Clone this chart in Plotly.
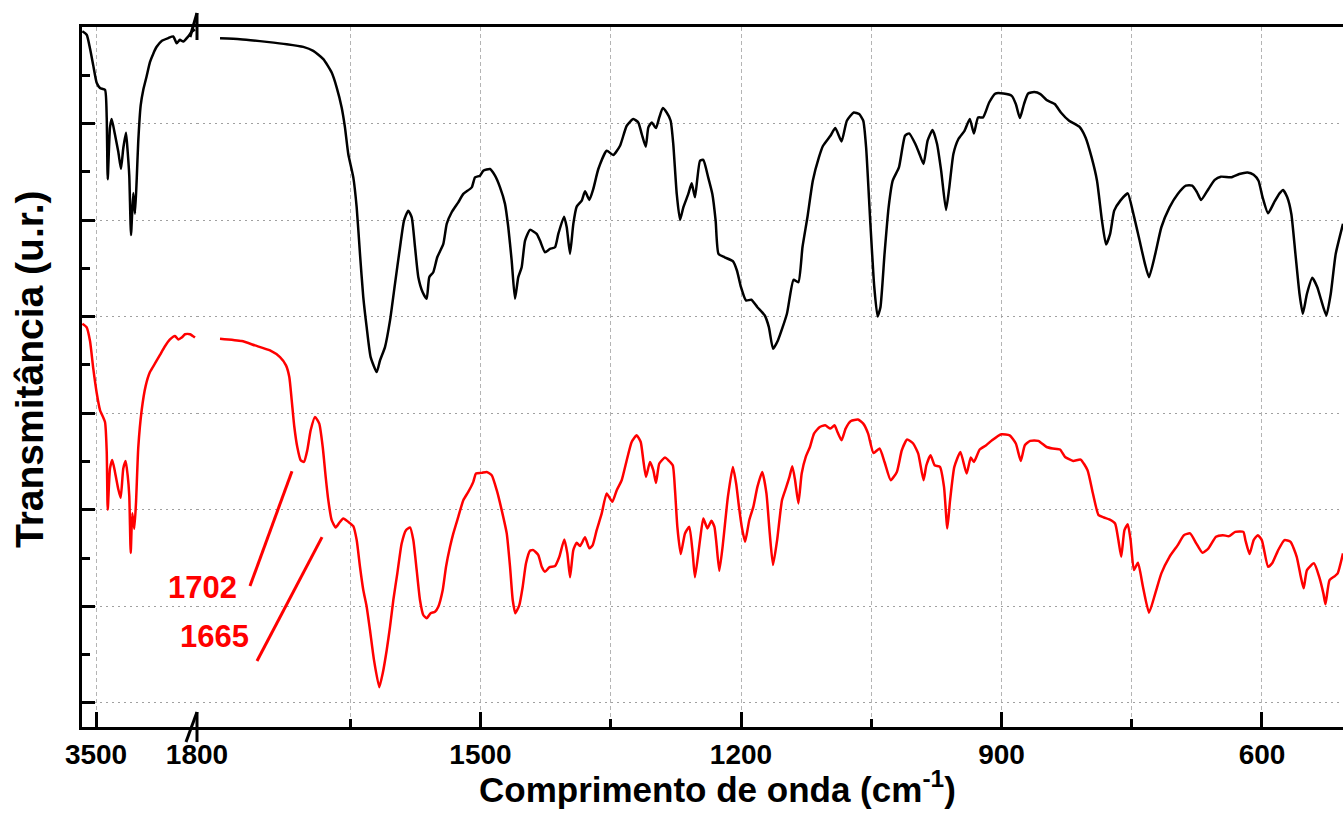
import plotly.graph_objects as go

# ---------------- data (wavenumber cm-1, transmittance u.r.) ----------------
black_left_wn = [3731, 3657, 3601, 3546, 3489, 3433, 3349, 3320, 3303, 3265, 3236, 3181, 3125, 3080,
                 3041, 2995, 2967, 2940, 2911, 2873, 2844, 2815, 2789, 2748, 2704, 2647, 2592, 2536,
                 2479, 2395, 2284, 2200, 2142, 2087, 2031, 1947, 1890, 1834]
black_left_t = [6.956, 6.920, 6.778, 6.600, 6.422, 6.368, 6.350, 6.064, 5.423, 5.958, 6.046, 5.886,
                5.708, 5.529, 5.744, 5.905, 5.708, 5.458, 4.845, 5.280, 5.066, 5.423, 5.815, 6.189,
                6.350, 6.492, 6.635, 6.724, 6.795, 6.856, 6.885, 6.903, 6.831, 6.867, 6.849, 6.903,
                6.949, 6.974]

black_right_wn = [1800.0, 1777.0, 1746.2, 1723.2, 1704.1, 1692.6, 1681.0, 1671.4, 1665.6, 1659.9,
                  1656.1, 1652.3, 1646.5, 1642.6, 1638.8, 1635.0, 1631.1, 1626.5, 1619.5, 1615.7,
                  1610.0, 1604.2, 1598.5, 1592.7, 1588.1, 1583.2, 1579.2, 1575.4, 1571.6, 1566.6,
                  1562.0, 1559.0, 1554.4, 1549.8, 1542.8, 1538.9, 1533.2, 1525.6, 1519.8, 1510.1,
                  1506.3, 1500.6, 1496.8, 1489.1, 1483.3, 1477.5, 1471.8, 1468.0, 1464.1, 1460.3,
                  1456.5, 1452.6, 1448.7, 1443.0, 1435.3, 1431.5, 1425.7, 1420.0, 1414.2, 1410.4,
                  1403.8, 1400.7, 1396.9, 1393.1, 1389.2, 1383.4, 1379.6, 1374.7, 1370.1, 1364.3,
                  1354.7, 1347.1, 1339.3, 1331.6, 1324.0, 1318.3, 1314.3, 1309.7, 1306.7, 1302.8,
                  1297.9, 1294.1, 1290.2, 1285.6, 1281.0, 1278.0, 1274.0, 1270.2, 1266.4, 1260.7,
                  1256.8, 1253.0, 1247.2, 1243.4, 1237.8, 1233.0, 1229.2, 1225.9, 1218.9, 1209.4,
                  1204.7, 1200.0, 1194.3, 1188.1, 1181.1, 1172.6, 1167.9, 1163.1, 1157.5, 1147.1,
                  1139.5, 1133.9, 1129.2, 1123.5, 1117.3, 1110.3, 1105.5, 1097.0, 1091.4, 1084.2,
                  1078.1, 1070.1, 1063.9, 1059.2, 1055.9, 1051.2, 1046.5, 1042.7, 1039.4, 1034.7,
                  1030.0, 1025.3, 1018.1, 1011.1, 1006.4, 999.2, 994.5, 989.8, 985.1, 979.4,
                  974.2, 969.5, 963.9, 960.1, 955.4, 949.6, 942.6, 936.5, 931.8, 927.0,
                  921.3, 914.2, 907.1, 897.7, 888.2, 883.5, 878.8, 874.1, 869.3, 862.3,
                  855.2, 848.1, 838.7, 831.6, 822.1, 810.4, 803.2, 796.2, 790.0, 784.3,
                  779.6, 774.9, 770.2, 763.1, 754.6, 749.0, 741.8, 734.8, 730.1, 722.9,
                  715.9, 706.5, 697.0, 687.6, 680.4, 674.8, 670.1, 661.6, 654.4, 647.4,
                  635.6, 626.1, 616.6, 609.6, 604.0, 599.3, 593.0, 586.0, 579.8, 575.6,
                  570.9, 566.2, 561.5, 556.8, 553.0, 548.2, 542.0, 536.3, 531.7, 525.9,
                  520.8, 515.1, 506.7]
black_right_t = [6.884, 6.874, 6.846, 6.822, 6.794, 6.753, 6.667, 6.528, 6.373, 6.166,
                 5.960, 5.685, 5.443, 5.132, 4.650, 4.202, 3.891, 3.581, 3.426, 3.547,
                 3.685, 3.961, 4.340, 4.719, 4.995, 5.098, 5.029, 4.719, 4.409, 4.253,
                 4.185, 4.409, 4.460, 4.615, 4.754, 4.961, 5.081, 5.184, 5.271, 5.339,
                 5.443, 5.460, 5.512, 5.529, 5.460, 5.339, 5.168, 4.926, 4.581, 4.185,
                 4.409, 4.512, 4.788, 4.899, 4.857, 4.788, 4.667, 4.702, 4.719, 4.857,
                 5.036, 4.926, 4.650, 4.961, 5.140, 5.202, 5.298, 5.209, 5.323, 5.529,
                 5.719, 5.674, 5.770, 5.977, 6.047, 6.011, 5.891, 5.760, 5.960, 6.011,
                 5.953, 6.063, 6.160, 6.115, 6.029, 5.788, 5.271, 5.002, 5.132, 5.271,
                 5.381, 5.236, 5.615, 5.623, 5.443, 5.271, 4.995, 4.650, 4.615, 4.574,
                 4.478, 4.305, 4.168, 4.175, 4.098, 4.012, 3.891, 3.668, 3.754, 4.030,
                 4.382, 4.357, 4.719, 5.029, 5.408, 5.649, 5.770, 5.874, 5.953, 5.815,
                 6.029, 6.115, 6.098, 6.029, 5.753, 4.995, 4.305, 4.002, 4.098, 4.650,
                 5.132, 5.408, 5.546, 5.874, 5.898, 5.788, 5.685, 5.581, 5.822, 5.933,
                 5.788, 5.512, 5.105, 5.339, 5.685, 5.840, 5.925, 6.047, 5.898, 6.063,
                 6.063, 6.218, 6.311, 6.311, 6.287, 6.202, 6.057, 6.202, 6.311, 6.326,
                 6.305, 6.243, 6.202, 6.115, 6.029, 5.967, 5.856, 5.649, 5.408, 4.995,
                 4.747, 4.857, 5.098, 5.202, 5.277, 5.098, 4.822, 4.547, 4.409, 4.650,
                 4.926, 5.132, 5.271, 5.357, 5.357, 5.288, 5.209, 5.323, 5.416, 5.450,
                 5.443, 5.478, 5.494, 5.470, 5.408, 5.236, 5.070, 5.184, 5.277, 5.312,
                 5.236, 5.064, 4.650, 4.237, 4.030, 4.237, 4.402, 4.305, 4.168, 4.012,
                 4.237, 4.650, 4.961]

red_left_wn = [3731, 3657, 3601, 3546, 3489, 3433, 3349, 3320, 3303, 3265, 3226, 3181, 3125, 3085,
               3041, 3001, 2967, 2940, 2916, 2889, 2856, 2827, 2789, 2731, 2664, 2592, 2507, 2423,
               2339, 2255, 2171, 2115, 2058, 2002, 1918, 1834]
red_left_t = [3.926, 3.889, 3.747, 3.461, 3.212, 3.033, 2.909, 2.606, 1.999, 2.427, 2.516, 2.392,
              2.213, 2.124, 2.427, 2.506, 2.356, 2.142, 1.553, 1.964, 1.803, 2.070, 2.641, 3.033,
              3.283, 3.426, 3.515, 3.604, 3.693, 3.764, 3.800, 3.764, 3.783, 3.818, 3.818, 3.783]

red_right_wn = [1800.0, 1775.0, 1759.7, 1742.4, 1730.9, 1724.0, 1720.2, 1717.4, 1714.4, 1711.0,
                1707.1, 1703.3, 1699.5, 1695.6, 1690.6, 1685.7, 1681.7, 1678.3, 1675.3, 1671.4,
                1666.8, 1662.6, 1658.0, 1652.3, 1646.5, 1642.6, 1638.8, 1635.0, 1631.1, 1627.3,
                1622.7, 1616.6, 1612.6, 1608.0, 1604.2, 1600.4, 1595.8, 1590.8, 1585.8, 1581.2,
                1577.4, 1573.5, 1569.7, 1565.9, 1562.0, 1557.4, 1552.4, 1548.6, 1543.5, 1539.7,
                1535.1, 1531.3, 1525.6, 1519.8, 1514.1, 1508.3, 1505.2, 1498.6, 1492.9, 1487.1,
                1481.3, 1475.6, 1469.8, 1466.0, 1462.9, 1459.9, 1455.3, 1451.4, 1447.6, 1443.0,
                1439.2, 1433.4, 1429.5, 1425.7, 1420.8, 1414.2, 1409.2, 1403.5, 1400.0, 1396.9,
                1393.1, 1389.2, 1385.4, 1379.6, 1374.7, 1370.8, 1366.2, 1360.4, 1354.7, 1348.2,
                1343.1, 1337.4, 1331.6, 1325.9, 1320.1, 1315.5, 1312.5, 1309.4, 1304.8, 1301.0,
                1297.9, 1294.1, 1287.5, 1283.7, 1278.6, 1276.0, 1273.3, 1269.4, 1264.5, 1259.5,
                1255.6, 1253.0, 1247.2, 1243.4, 1238.7, 1234.0, 1230.6, 1228.3, 1225.0, 1221.2,
                1218.0, 1215.1, 1209.4, 1205.6, 1202.3, 1199.1, 1195.3, 1190.5, 1185.8, 1181.1,
                1175.5, 1170.7, 1166.9, 1163.1, 1158.4, 1152.8, 1148.0, 1144.2, 1140.9, 1137.7,
                1133.9, 1130.1, 1125.4, 1120.6, 1115.9, 1109.3, 1103.1, 1097.0, 1092.3, 1088.9,
                1084.2, 1079.5, 1073.4, 1065.3, 1059.2, 1053.6, 1047.4, 1040.4, 1034.7, 1027.6,
                1020.5, 1014.8, 1008.7, 1001.7, 995.9, 989.8, 986.5, 981.7, 977.0, 970.9,
                966.2, 962.4, 959.2, 954.3, 947.3, 940.2, 935.4, 931.8, 925.1, 917.6,
                910.9, 900.1, 890.6, 883.5, 877.8, 873.1, 867.0, 857.6, 848.1, 841.0,
                832.6, 826.8, 817.4, 808.9, 800.9, 794.7, 788.2, 782.0, 775.8, 769.2,
                765.4, 762.1, 758.4, 754.6, 751.3, 747.5, 742.8, 737.1, 730.1, 722.9,
                715.9, 706.5, 697.0, 689.9, 682.8, 675.7, 668.6, 661.6, 653.0, 645.1,
                637.9, 630.8, 621.4, 619.1, 614.3, 609.6, 604.9, 600.2, 593.0, 588.3,
                581.3, 574.1, 567.1, 560.0, 555.3, 552.0, 548.2, 540.2, 534.1, 529.3,
                526.9, 522.2, 516.1, 512.8, 506.7]
red_right_t = [3.771, 3.747, 3.702, 3.650, 3.581, 3.495, 3.374, 3.133, 2.857, 2.650,
               2.513, 2.495, 2.616, 2.823, 2.961, 2.892, 2.650, 2.340, 2.099, 1.892,
               1.817, 1.865, 1.910, 1.875, 1.830, 1.686, 1.410, 1.169, 0.996, 0.755,
               0.445, 0.162, 0.307, 0.548, 0.789, 1.065, 1.341, 1.651, 1.789, 1.817,
               1.686, 1.375, 1.065, 0.910, 0.876, 0.928, 0.944, 0.996, 1.169, 1.410,
               1.616, 1.755, 1.927, 2.099, 2.185, 2.289, 2.375, 2.382, 2.392, 2.358,
               2.203, 1.996, 1.755, 1.410, 1.065, 0.928, 1.013, 1.203, 1.445, 1.575,
               1.582, 1.531, 1.410, 1.358, 1.403, 1.417, 1.513, 1.693, 1.548, 1.300,
               1.582, 1.658, 1.624, 1.714, 1.600, 1.634, 1.789, 1.962, 2.169, 2.082,
               2.203, 2.306, 2.513, 2.702, 2.771, 2.702, 2.513, 2.340, 2.495, 2.410,
               2.278, 2.479, 2.541, 2.513, 2.461, 2.203, 1.823, 1.541, 1.755, 1.823,
               1.548, 1.300, 1.686, 1.910, 1.807, 1.885, 1.823, 1.652, 1.368, 1.616,
               1.892, 2.133, 2.444, 2.272, 2.030, 1.823, 1.668, 1.892, 2.030, 2.237,
               2.392, 2.169, 1.755, 1.427, 1.686, 2.099, 2.231, 2.340, 2.451, 2.306,
               2.065, 2.375, 2.547, 2.650, 2.789, 2.857, 2.875, 2.841, 2.875, 2.806,
               2.720, 2.841, 2.919, 2.934, 2.892, 2.789, 2.588, 2.634, 2.495, 2.306,
               2.392, 2.616, 2.727, 2.686, 2.582, 2.306, 2.461, 2.565, 2.461, 2.444,
               2.237, 1.807, 2.099, 2.444, 2.599, 2.375, 2.541, 2.495, 2.624, 2.668,
               2.720, 2.782, 2.771, 2.686, 2.506, 2.668, 2.713, 2.713, 2.650, 2.634,
               2.624, 2.547, 2.506, 2.520, 2.410, 2.169, 1.944, 1.920, 1.900, 1.858,
               1.686, 1.513, 1.789, 1.851, 1.686, 1.375, 1.451, 1.203, 0.934, 1.134,
               1.341, 1.513, 1.634, 1.737, 1.755, 1.652, 1.554, 1.600, 1.720, 1.737,
               1.727, 1.771, 1.771, 1.686, 1.541, 1.686, 1.737, 1.686, 1.410, 1.445,
               1.582, 1.686, 1.668, 1.513, 1.306, 1.186, 1.375, 1.445, 1.306, 1.134,
               1.021, 1.272, 1.313, 1.341, 1.548]

left_ticks = [3500, 1800]
right_ticks = [1500, 1200, 900, 600]
right_minor_ticks = [1650, 1350, 1050, 750]

peak_labels = ["1702", "1665"]

BLACK = "#000000"
RED = "#ff0000"
FONT = "Liberation Sans, Arial, Helvetica, sans-serif"

# ---------------- geometry ----------------
W, H = 1343, 837
ML, MR, MT, MB = 82, 0, 27, 110
PW = W - ML - MR
PH = H - MT - MB
BREAK_PX = 197
brk = (BREAK_PX - ML) / PW

def px_x(px):
    return (px - ML) / PW

def px_y(py):
    return (H - MB - py) / PH

fig = go.Figure()
for xs, ys, col, xa in [(black_left_wn, black_left_t, BLACK, "x"),
                        (black_right_wn, black_right_t, BLACK, "x2"),
                        (red_left_wn, red_left_t, RED, "x"),
                        (red_right_wn, red_right_t, RED, "x2")]:
    fig.add_trace(go.Scatter(x=xs, y=ys, mode="lines", xaxis=xa, yaxis="y",
                             line=dict(color=col, width=2.5, shape="spline", smoothing=0.5),
                             showlegend=False, hoverinfo="skip"))

axis_common = dict(showline=True, linewidth=3, linecolor=BLACK, mirror=True,
                   ticks="inside", ticklen=15, tickwidth=3, tickcolor=BLACK,
                   zeroline=False, showgrid=True, gridcolor="#b4b4b4", gridwidth=1,
                   griddash="4px,3px", automargin=False,
                   tickfont=dict(family=FONT, size=28, color=BLACK, weight="bold"))

fig.update_layout(
    width=W, height=H, autosize=False,
    margin=dict(l=ML, r=MR, t=MT, b=MB, autoexpand=False),
    paper_bgcolor="white", plot_bgcolor="white", showlegend=False,
    xaxis=dict(domain=[0, brk], range=[3736, 1800], tickmode="array",
               tickvals=left_ticks, ticktext=[str(v) for v in left_ticks],
               anchor="y", **axis_common),
    xaxis2=dict(domain=[brk, 1], range=[1826.5, 506.7], tickmode="array",
                tickvals=right_ticks, ticktext=[str(v) for v in right_ticks],
                anchor="y",
                minor=dict(tickmode="array", tickvals=right_minor_ticks, ticks="inside",
                           ticklen=8, tickwidth=3, tickcolor=BLACK, showgrid=True,
                           gridcolor="#b4b4b4", griddash="4px,3px", gridwidth=1),
                **axis_common),
    yaxis=dict(range=[-0.25, 7.0], tick0=0, dtick=1, showticklabels=False,
               showline=True, linewidth=3, linecolor=BLACK, mirror=False,
               ticks="inside", ticklen=13, tickwidth=3, tickcolor=BLACK,
               zeroline=False, showgrid=True, gridcolor="#a0a0a0", gridwidth=1,
               griddash="2px,4px", anchor="x", automargin=False,
               minor=dict(dtick=0.5, ticks="inside", ticklen=8, tickwidth=3,
                          tickcolor=BLACK, showgrid=False)),
)

# axis titles
fig.add_annotation(text="Comprimento de onda (cm<sup>-1</sup>)", xref="paper", yref="paper",
                   x=px_x(717), y=px_y(787), xanchor="center", yanchor="middle",
                   showarrow=False, font=dict(family=FONT, size=35, color=BLACK, weight="bold"))
fig.add_annotation(text="Transmitância (u.r.)", xref="paper", yref="paper",
                   x=px_x(29), y=px_y(369), xanchor="center", yanchor="middle",
                   textangle=-90, showarrow=False,
                   font=dict(family=FONT, size=39, color=BLACK, weight="bold"))

# peak labels with leader lines (in data coordinates of the right segment)
label_pos = [(1820.7, 1.20), (1805.8, 0.683)]
leader = [((1765.5, 1.210), (1717.1, 2.399)), ((1757.4, 0.434), (1682.5, 1.717))]
for txt, (lx, ly), ((x0, y0), (x1, y1)) in zip(peak_labels, label_pos, leader):
    fig.add_annotation(text=txt, x=lx, y=ly, xref="x2", yref="y", showarrow=False,
                       xanchor="center", yanchor="middle",
                       font=dict(family=FONT, size=31, color=RED, weight="bold"))
    fig.add_shape(type="line", x0=x0, y0=y0, x1=x1, y1=y1, xref="x2", yref="y",
                  line=dict(color=RED, width=3))

# axis-break marks (top and bottom)
for (a, b) in [((BREAK_PX, 13), (BREAK_PX, 40)), ((190, 37), (BREAK_PX, 13)),
               ((BREAK_PX, 712), (BREAK_PX, 742)), ((186, 742), (BREAK_PX, 712))]:
    fig.add_shape(type="line", xref="paper", yref="paper",
                  x0=px_x(a[0]), y0=px_y(a[1]), x1=px_x(b[0]), y1=px_y(b[1]),
                  line=dict(color=BLACK, width=3))

fig.write_html("out.html")
